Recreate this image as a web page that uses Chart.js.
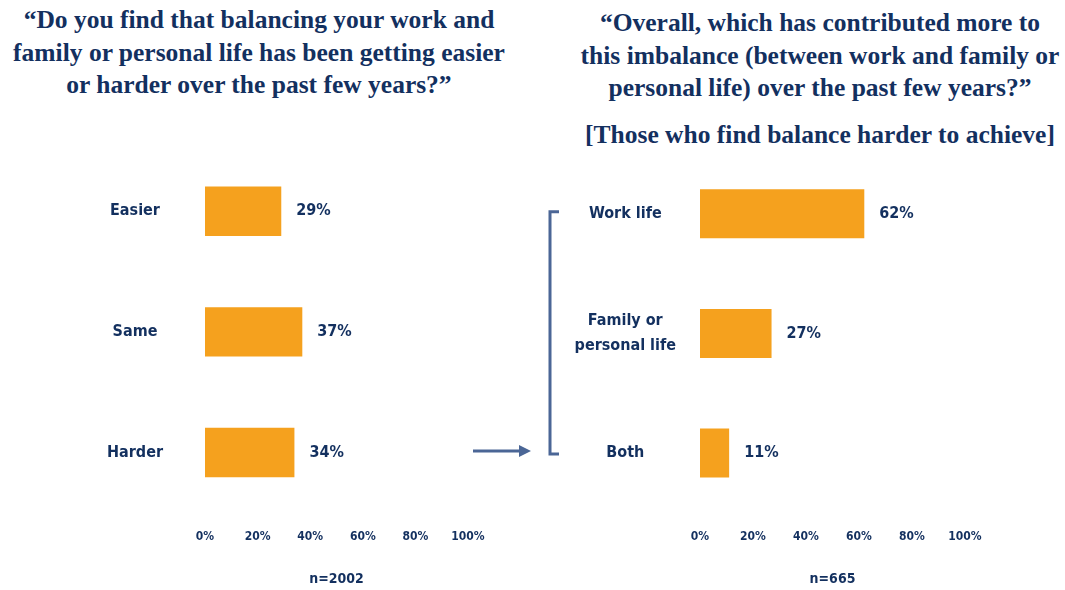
<!DOCTYPE html>
<html>
<head>
<meta charset="utf-8">
<script src="https://cdn.jsdelivr.net/npm/chart.js@4.4.1/dist/chart.umd.min.js"></script>
<style>
    body { margin: 0; background: #fff; width: 1065px; height: 590px; overflow: hidden; position: relative; }
    .title { position: absolute; text-align: center; color: #13305f; font-family: "Liberation Serif", serif;
             font-weight: bold; font-size: 25.5px; line-height: 32.5px; white-space: nowrap; }
    canvas { position: absolute; top: 0; }
</style>
</head>
<body>
<div class="title" style="left:7px; top:4px; width:504px;">“Do you find that balancing your work and<br>family or personal life has been getting easier<br>or harder over the past few years?”</div>
<div class="title" style="left:565px; top:7px; width:510px;">“Overall, which has contributed more to<br>this imbalance (between work and family or<br>personal life) over the past few years?”</div>
<div class="title" style="left:565px; top:119px; width:510px;">[Those who find balance harder to achieve]</div>

<canvas id="leftChart" width="520" height="590" style="left:0"></canvas>
<canvas id="rightChart" width="605" height="590" style="left:460px"></canvas>

<script>
// data
var leftCategories = ['Easier', 'Same', 'Harder'];
var leftValues = [29, 37, 34];
var leftN = 'n=2002';

var rightCategories = ['Work life', ['Family or', 'personal life'], 'Both'];
var rightValues = [62, 27, 11];
var rightN = 'n=665';

var tickStep = 20;

var navy = '#13305f';
var barColor = '#f5a11e';
var lineColor = '#4b6696';
var labelFont = '"DejaVu Sans Condensed", "Liberation Sans Narrow", "DejaVu Sans", sans-serif';

// percent labels at the end of each bar
var valueLabels = {
    id: 'valueLabels',
    afterDatasetsDraw(chart) {
        var ctx = chart.ctx;
        var meta = chart.getDatasetMeta(0);
        ctx.save();
        ctx.font = 'bold 16px ' + labelFont;
        ctx.fillStyle = navy;
        ctx.textBaseline = 'middle';
        meta.data.forEach(function (bar, i) {
            ctx.fillText(chart.data.datasets[0].data[i] + '%', bar.x + 15, bar.y);
        });
        ctx.restore();
    }
};

// arrow + bracket linking "Harder" to the second question
var bracket = {
    id: 'bracket',
    afterDraw(chart) {
        var ctx = chart.ctx;
        var y = chart.scales.y;
        var top = y.getPixelForValue(0) - 2;
        var bottom = y.getPixelForValue(2) + 1;
        var x = chart.chartArea.left - 150;
        ctx.save();
        ctx.strokeStyle = lineColor;
        ctx.fillStyle = lineColor;
        ctx.lineWidth = 3;
        ctx.beginPath();
        ctx.moveTo(x + 9, top);
        ctx.lineTo(x, top);
        ctx.lineTo(x, bottom);
        ctx.lineTo(x + 9, bottom);
        ctx.stroke();

        var ay = y.getPixelForValue(2) - 2;
        ctx.beginPath();
        ctx.moveTo(x - 77, ay);
        ctx.lineTo(x - 28, ay);
        ctx.stroke();
        ctx.beginPath();
        ctx.moveTo(x - 31, ay - 6);
        ctx.lineTo(x - 19, ay);
        ctx.lineTo(x - 31, ay + 6);
        ctx.closePath();
        ctx.fill();
        ctx.restore();
    }
};

function makeChart(id, categories, values, n, yWidth, yPad, padTop, padRight, extra) {
    var ctx = document.getElementById(id).getContext('2d');
    return new Chart(ctx, {
        type: 'bar',
        data: {
            labels: categories,
            datasets: [{
                data: values,
                backgroundColor: barColor,
                barPercentage: 0.41,
                categoryPercentage: 1
            }]
        },
        options: {
            indexAxis: 'y',
            responsive: false,
            animation: false,
            layout: { padding: { top: padTop, right: padRight, left: 0, bottom: 0 } },
            plugins: {
                legend: { display: false },
                tooltip: { enabled: false }
            },
            scales: {
                x: {
                    min: 0,
                    max: 100,
                    grid: { display: false, drawTicks: false },
                    border: { display: false },
                    ticks: {
                        stepSize: tickStep,
                        autoSkip: false,
                        maxRotation: 0,
                        padding: 17,
                        color: navy,
                        font: { family: labelFont, size: 12, weight: 'bold' },
                        callback: function (v) { return v + '%'; }
                    },
                    title: {
                        display: true,
                        text: n,
                        color: navy,
                        padding: { top: 10, bottom: 2 },
                        font: { family: labelFont, size: 14, weight: 'bold' }
                    }
                },
                y: {
                    grid: { display: false, drawTicks: false },
                    border: { display: false },
                    afterFit: function (scale) { scale.width = yWidth; },
                    ticks: {
                        crossAlign: 'center',
                        padding: yPad,
                        color: navy,
                        font: { family: labelFont, size: 16, weight: 'bold', lineHeight: 1.6 }
                    }
                }
            }
        },
        plugins: extra ? [valueLabels, extra] : [valueLabels]
    });
}

makeChart('leftChart', leftCategories, leftValues, leftN, 205, 42, 151, 52);
makeChart('rightChart', rightCategories, rightValues, rightN, 240, 24, 154, 100, bracket);
</script>
</body>
</html>
